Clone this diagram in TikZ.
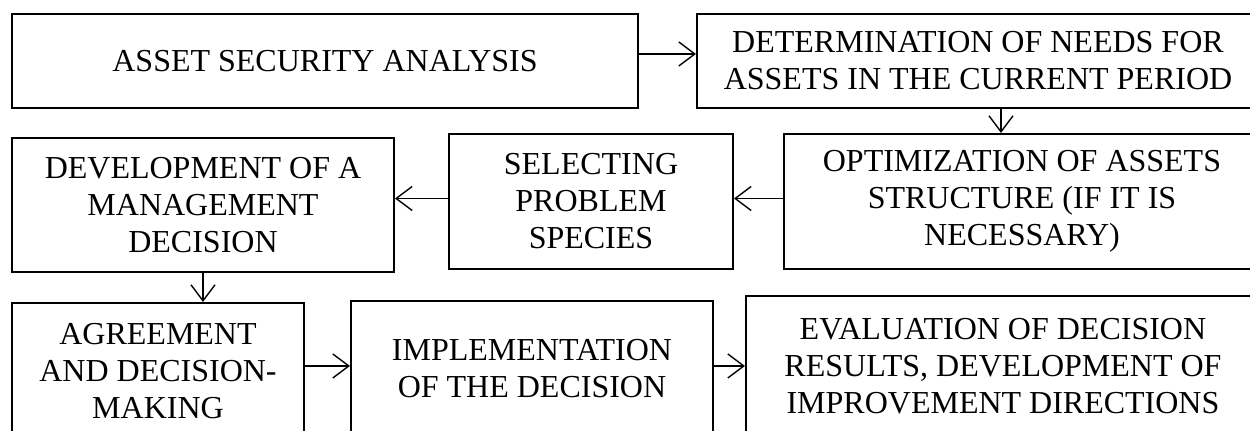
\documentclass[tikz,border=0pt]{standalone}
\usepackage{fontspec}
\setmainfont{Liberation Serif}
\usetikzlibrary{positioning, calc, arrows.meta}
\tikzstyle{block}=[rectangle, draw, line width=1pt, align=center, anchor=north west,
  inner sep=2pt, font=\fontsize{16}{18.5}\selectfont]
\tikzstyle{arrow}=[line width=0.7pt, -{Straight Barb[length=8pt, width=12pt]}]

\begin{document}
\begin{tikzpicture}[x=0.5pt, y=-0.5pt]
    	\clip (0,0) rectangle (1250,431);
    	% Nodes
    	\node[block, minimum width=313pt, minimum height=47pt] (analysis) at (11,13)
    		{ASSET SECURITY ANALYSIS};
    	\node[block, minimum width=281pt, minimum height=47pt] (needs) at (696,13)
    		{DETERMINATION OF NEEDS FOR\\ASSETS IN THE CURRENT PERIOD};
    	\node[block, minimum width=238pt, minimum height=67.5pt] (optimization) at (783,133)
    		{OPTIMIZATION OF ASSETS\\STRUCTURE (IF IT IS\\NECESSARY)};
    	\node[block, minimum width=142pt, minimum height=67.5pt] (selecting) at (448,133)
    		{SELECTING\\PROBLEM\\SPECIES};
    	\node[block, minimum width=191pt, minimum height=67pt] (development) at (11,137)
    		{DEVELOPMENT OF A\\MANAGEMENT\\DECISION};
    	\node[block, minimum width=146pt, minimum height=68pt] (agreement) at (11,302)
    		{AGREEMENT\\AND DECISION-\\MAKING};
    	\node[block, minimum width=181pt, minimum height=68pt] (implementation) at (350,300)
    		{IMPLEMENTATION\\OF THE DECISION};
    	\node[block, minimum width=257pt, minimum height=70pt] (evaluation) at (745,295)
    		{EVALUATION OF DECISION\\RESULTS, DEVELOPMENT OF\\IMPROVEMENT DIRECTIONS};

    	% Arrows
    	\draw[arrow] ([yshift=3.5pt]analysis.east) -- ([yshift=3.5pt]needs.west);
    	\draw[arrow] ([xshift=11.5pt]needs.south) -- ([xshift=11.5pt]needs.south |- optimization.north);
    	\draw[arrow] ([yshift=1.5pt]optimization.west) -- ([yshift=1.5pt]selecting.east);
    	\draw[arrow] ([yshift=1.5pt]selecting.west) -- ([yshift=1.5pt]selecting.west -| development.east);
    	\draw[arrow] (development.south) -- (development.south |- agreement.north);
    	\draw[arrow] ([yshift=2.5pt]agreement.east) -- ([yshift=2.5pt]agreement.east -| implementation.west);
    	\draw[arrow] ([yshift=1.5pt]implementation.east) -- ([yshift=1.5pt]implementation.east -| evaluation.west);
\end{tikzpicture}
\end{document}
